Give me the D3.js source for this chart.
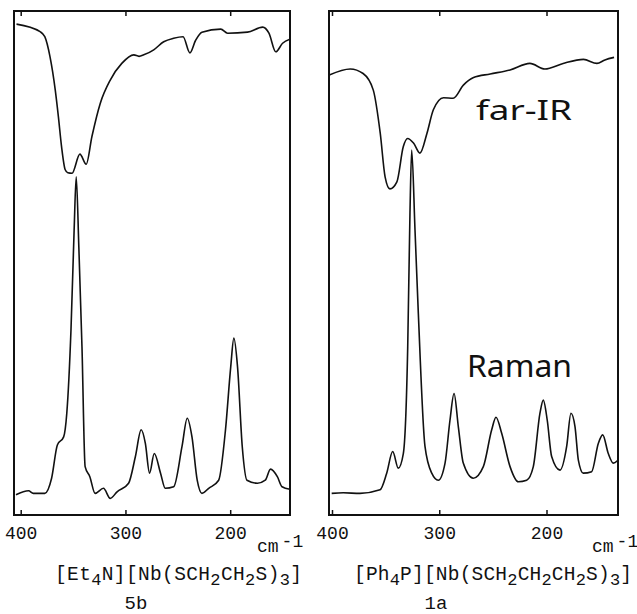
<!DOCTYPE html>
<html>
<head>
<meta charset="utf-8">
<script src="https://cdn.jsdelivr.net/npm/d3@7"></script>
<style>
  body { margin: 0; background: #fff; }
  svg { display: block; }
  .trace { fill: none; stroke: #111; stroke-width: 1.6; stroke-linejoin: round; }
  .frame { fill: none; stroke: #111; stroke-width: 2; }
  .mono { font-family: "Liberation Mono", "DejaVu Sans Mono", monospace; fill: #111; }
  .sans { font-family: "Noto Sans", "DejaVu Sans", sans-serif; fill: #111; }
</style>
</head>
<body>
<svg width="637" height="614"></svg>
<script>
// tick labels (wavenumber, cm-1)
var ticks = [400, 300, 200];

// left spectrum: [Et4N][Nb(SCH2CH2S)3]  (wavenumber, intensity 0-100)
var irLeft = [[404,97.4],[381.5,95.9],[377,94.9],[372,90.9],[367,84.3],[364,79.0],[361,73.1],[357.5,68.5],
  [355,67.9],[351,67.8],[343.5,71.6],[337.5,69.6],[332,75.1],[324,81.7],[314.5,86.3],[303.5,89.6],[292,91.3],
  [287,91.0],[282.5,91.3],[273,92.3],[263.5,93.9],[254,94.6],[245,94.9],[238.5,91.7],[233,94.2],[227,95.8],
  [209,96.4],[202.5,95.6],[183.5,95.8],[169,96.8],[163,95.6],[156.5,91.9],[150,93.6],[143,94.4]];

var ramanLeft = [[404.5,4.0],[392.5,4.8],[388,4.3],[377,4.3],[370.5,7.3],[365,13.9],[359,15.5],[356,20.2],
  [352,36.7],[349,56.5],[347,67.1],[344.5,53.2],[341.5,33.4],[338.5,9.6],[334,7.6],[329,4.3],[321,5.3],
  [314.5,3.3],[308,4.6],[297,6.3],[290.5,11.6],[285,16.9],[281,14.2],[277,8.3],[272.5,12.2],[266.5,8.3],
  [262,5.3],[254,5.6],[246,13.6],[241,19.2],[236.5,15.5],[231.5,6.9],[227,4.3],[220.5,5.3],[211,6.9],
  [204.5,16.9],[199.5,29.4],[196.5,35.1],[193,29.4],[188.5,13.6],[184,6.9],[174,6.3],[166.5,6.9],
  [161.5,9.1],[155,7.6],[150.5,5.6],[143,5.1]];

// right spectrum: [Ph4P][Nb(SCH2CH2CH2S)3]
var irRight = [[402.5,87.3],[383,88.5],[371,87.6],[361.5,84.3],[355,75.7],[350.5,67.1],[346,64.7],
  [339.5,66.1],[333.5,73.1],[329.5,74.7],[324,73.8],[318,71.8],[311.5,75.7],[305.5,80.4],[296,82.8],
  [287,82.7],[277.5,85.3],[268,86.8],[252.5,87.5],[234,88.3],[215.5,89.6],[201.5,88.5],[184.5,89.6],
  [165.5,90.4],[153,89.6],[145.5,90.3],[137,90.8]];

var ramanRight = [[400.3,4.3],[389.5,4.4],[373.9,4.3],[355.2,5.0],[349,8.3],[343.4,12.6],[338.2,9.3],
  [333.5,12.2],[329.4,33.4],[327.3,59.9],[325.7,72.4],[322.6,56.5],[319.5,40.0],[313.3,13.6],[307,8.3],
  [300.9,6.9],[294.6,10.3],[290,18.8],[286.2,24.1],[282.2,17.5],[277.6,10.3],[268.3,7.3],[258.9,9.6],
  [251.1,16.9],[247.1,19.4],[241.8,16.2],[234,9.6],[226.3,6.6],[218.5,6.9],[212.3,9.6],[206.1,20.2],
  [203,22.8],[199.3,18.8],[195.2,11.6],[187.4,8.9],[181.2,13.6],[177.2,20.2],[173.4,17.5],[170.3,10.9],
  [165.7,8.3],[157.9,8.6],[151.7,14.2],[147.6,15.9],[142.4,12.2],[137.7,10.3],[133.1,10.9]];

// compound names (main text, subscript) and ids
var namesLeft = [["[Et",""],["","4"],["N][Nb(SCH",""],["","2"],["CH",""],["","2"],["S)",""],["","3"],["]",""]];
var namesRight = [["[Ph",""],["","4"],["P][Nb(SCH",""],["","2"],["CH",""],["","2"],["CH",""],["","2"],["S)",""],["","3"],["]",""]];
var ids = ["5b", "1a"];

var svg = d3.select("svg");

var plotTop = 11, plotBottom = 515;
var y = d3.scaleLinear().domain([0, 100]).range([plotBottom, plotTop]);

var panels = [
  { ir: irLeft, raman: ramanLeft, x0: 14, x1: 290, r: [20.7, 230.2], name: namesLeft, nameX: 55, nameW: 247, id: ids[0], idX: 136, cmX: 257 },
  { ir: irRight, raman: ramanRight, x0: 329, x1: 618, r: [332, 546.5], name: namesRight, nameX: 354, nameW: 278, id: ids[1], idX: 436, cmX: 592 }
];

panels.forEach(function(p, i) {
  var x = d3.scaleLinear().domain([400, 200]).range(p.r);
  var g = svg.append("g");

  g.append("clipPath").attr("id", "clip" + i)
    .append("rect").attr("x", p.x0).attr("y", plotTop).attr("width", p.x1 - p.x0).attr("height", plotBottom - plotTop);

  var line = d3.line()
    .x(function(d) { return x(d[0]); })
    .y(function(d) { return y(d[1]); })
    .curve(d3.curveMonotoneX);

  g.append("path").datum(p.ir).attr("class", "trace").attr("clip-path", "url(#clip" + i + ")").attr("d", line);
  g.append("path").datum(p.raman).attr("class", "trace").attr("clip-path", "url(#clip" + i + ")").attr("d", line);

  // ticks inside the frame, top and bottom
  var axB = g.append("g").attr("transform", "translate(0," + plotBottom + ")")
    .call(d3.axisBottom(x).tickValues(ticks).tickSize(-5).tickPadding(11).tickFormat(d3.format("d")));
  axB.select(".domain").remove();
  axB.selectAll("line").attr("stroke", "#111").attr("stroke-width", 1.5);
  axB.selectAll("text").attr("class", "mono").style("font-size", "18px").attr("fill", "#111");
  axB.attr("font-family", null).attr("font-size", null);

  var axT = g.append("g").attr("transform", "translate(0," + plotTop + ")")
    .call(d3.axisTop(x).tickValues(ticks).tickSize(-5).tickFormat(""));
  axT.select(".domain").remove();
  axT.selectAll("line").attr("stroke", "#111").attr("stroke-width", 1.5);

  g.append("rect").attr("class", "frame")
    .attr("x", p.x0).attr("y", plotTop).attr("width", p.x1 - p.x0).attr("height", plotBottom - plotTop);

  // cm-1 unit
  var cm = g.append("text").attr("class", "mono").attr("x", p.cmX).attr("y", 552).style("font-size", "18px");
  cm.append("tspan").text("cm");
  cm.append("tspan").attr("dx", 3).attr("dy", -5).text("-1");

  // compound formula
  var t = g.append("text").attr("class", "mono").attr("x", p.nameX).attr("y", 585)
    .style("font-size", "19.5px").attr("textLength", p.nameW).attr("lengthAdjust", "spacing");
  p.name.forEach(function(s) {
    if (s[1]) t.append("tspan").attr("dy", 5).style("font-size", "17px").text(s[1]);
    else t.append("tspan").attr("dy", t.selectAll("tspan").size() ? -5 : 0).text(s[0]);
  });

  g.append("text").attr("class", "mono").attr("x", p.idX).attr("y", 609)
    .attr("text-anchor", "middle").style("font-size", "19px").text(p.id);
});

// spectrum labels
svg.append("text").attr("class", "sans").attr("x", 476).attr("y", 120)
  .style("font-size", "27px").attr("textLength", 96).attr("lengthAdjust", "spacingAndGlyphs").text("far-IR");
svg.append("text").attr("class", "sans").attr("x", 467).attr("y", 377)
  .style("font-size", "30px").attr("textLength", 105).attr("lengthAdjust", "spacingAndGlyphs").text("Raman");
</script>
</body>
</html>
